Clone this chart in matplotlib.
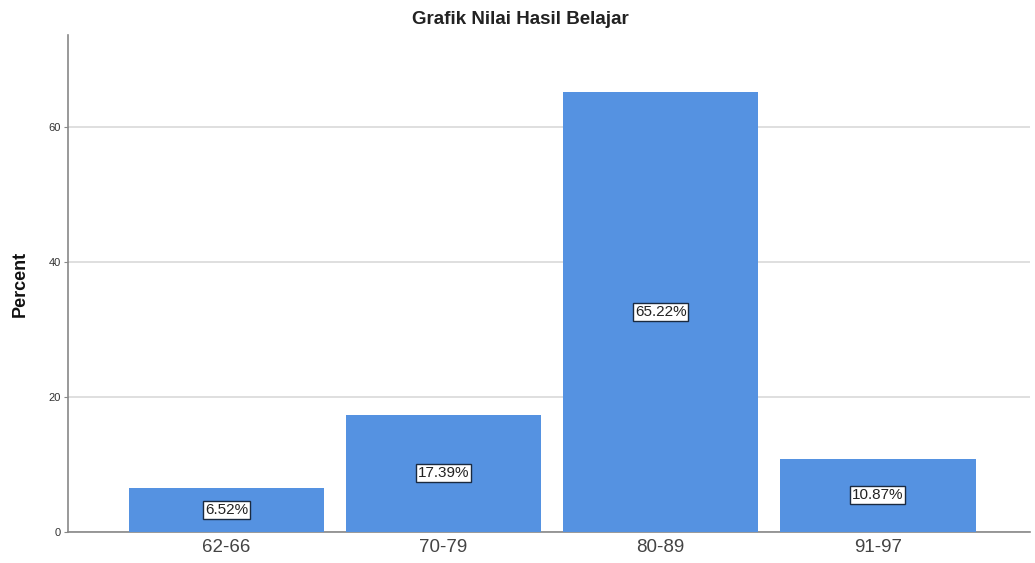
import matplotlib
matplotlib.use("Agg")
import matplotlib.pyplot as plt

categories = ["62-66", "70-79", "80-89", "91-97"]
percents = [6.52, 17.39, 65.22, 10.87]
labels = ["6.52%", "17.39%", "65.22%", "10.87%"]
yticks = [0, 20, 40, 60]

plt.rcParams['font.family'] = ['Liberation Sans', 'DejaVu Sans']

fig = plt.figure(figsize=(10.35, 5.63), dpi=100)
ax = fig.add_axes([0.0657, 0.0551, 0.9293, 0.8827])

x = list(range(len(categories)))
bars = ax.bar(x, percents, width=0.9, color="#5592E1", zorder=3)

ax.set_xlim(-0.73, 3.70)
ax.set_ylim(0, 73.6)
ax.set_yticks(yticks)
ax.set_yticklabels([str(v) for v in yticks], fontsize=8, color="#333333")
ax.set_xticks(x)
ax.set_xticklabels(categories, fontsize=13.5, color="#444444")
ax.tick_params(axis='x', length=0, pad=5)
ax.tick_params(axis='y', length=3, width=0.8, color="#888888", pad=2)

ax.grid(axis='y', color="#d9d9d9", linewidth=1.2, zorder=0)
for s in ["top", "right"]:
    ax.spines[s].set_visible(False)
ax.spines["left"].set_color("#888888")
ax.spines["bottom"].set_color("#888888")
ax.spines["left"].set_linewidth(1.2)
ax.spines["bottom"].set_linewidth(1.2)

for xi, v, lab in zip(x, percents, labels):
    ax.text(xi, v / 2, lab, ha="center", va="center", fontsize=11, color="#222222",
            bbox=dict(boxstyle="square,pad=0.12", facecolor="white", edgecolor="#1a2a40", linewidth=1.0),
            zorder=5)

ax.set_ylabel("Percent", fontsize=13, fontweight="bold", color="#111111", labelpad=14)
fig.text(0.503, 0.965, "Grafik Nilai Hasil Belajar", ha="center", va="center",
         fontsize=13.5, fontweight="bold", color="#222222")

fig.savefig("out.png", dpi=100, facecolor="white")
